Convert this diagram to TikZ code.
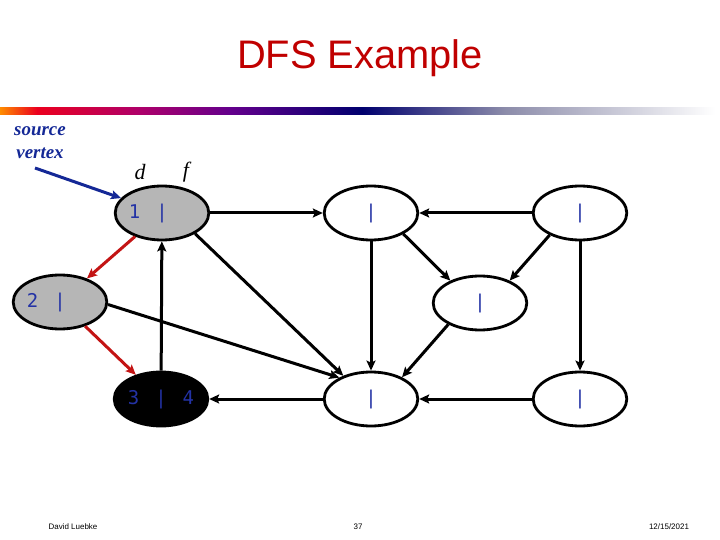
\documentclass[tikz,border=0pt]{standalone}
\usepackage{fontspec}
\setmainfont{Liberation Serif}
\setsansfont{Liberation Sans}
\setmonofont{DejaVu Sans Mono}
\usepackage{tikz}
\usetikzlibrary{arrows.meta, shapes.geometric}

\definecolor{titlered}{RGB}{192,0,0}
\definecolor{visitgray}{RGB}{182,182,182}
\definecolor{labelblue}{RGB}{35,50,165}
\definecolor{notenavy}{RGB}{20,40,150}
\definecolor{treered}{RGB}{195,20,20}
\definecolor{barorange}{RGB}{255,140,0}
\definecolor{barred}{RGB}{235,0,30}
\definecolor{barmagenta}{RGB}{175,0,105}
\definecolor{barpurple}{RGB}{100,0,140}
\definecolor{barnavy}{RGB}{0,0,110}
\definecolor{bargray}{RGB}{140,140,170}

\newcommand{\tgap}{\hspace{16bp}}
\newcommand{\dfslabel}[2]{#1\tgap|\tgap#2}
\newcommand{\nolabel}{\dfslabel{\phantom{0}}{\phantom{0}}}

\tikzset{
  vertex/.style={draw, ellipse, line width=2.8bp, fill=white,
    minimum width=86bp, minimum height=54bp, inner sep=0pt,
    text=labelblue, font=\ttfamily\fontsize{19}{19}\selectfont},
  grayvertex/.style={vertex, fill=visitgray},
  blackvertex/.style={vertex, fill=black},
  dfsedge/.style={line width=3bp, -{Stealth[length=10bp,width=9bp,inset=2bp]}},
  treeedge/.style={dfsedge, draw=treered},
}

\begin{document}
\begin{tikzpicture}[x=1bp, y=-1bp]
  \useasboundingbox (0,0) rectangle (720,540);
  % title and colour bar
  \node [text=titlered, font=\sffamily\fontsize{40}{40}\selectfont] (title) at (360,58) {DFS Example};
  \shade [left color=barorange, right color=barred] (0,108) rectangle (37,115);
  \shade [left color=barred, right color=barmagenta] (37,108) rectangle (138,115);
  \shade [left color=barmagenta, right color=barpurple] (138,108) rectangle (230,115);
  \shade [left color=barpurple, right color=barnavy] (230,108) rectangle (362,115);
  \shade [left color=barnavy, right color=bargray] (362,108) rectangle (505,115);
  \shade [left color=bargray, right color=white] (505,108) rectangle (715,115);

  % vertices
  \node [grayvertex] (a) at (162,213) {\dfslabel{1}{\phantom{0}}};
  \node [grayvertex] (b) at (60,302) {\dfslabel{2}{\phantom{0}}};
  \node [blackvertex] (c) at (161,399) {\dfslabel{3}{4}};
  \node [vertex] (d) at (371,213) {\nolabel};
  \node [vertex] (e) at (580,213) {\nolabel};
  \node [vertex] (g) at (480,303) {\nolabel};
  \node [vertex] (h) at (371,399) {\nolabel};
  \node [vertex] (k) at (580,399) {\nolabel};

  % d / f headings and source note
  \node [font=\itshape\fontsize{22}{22}\selectfont] (dlab) at (140,172) {d};
  \node [font=\itshape\fontsize{22}{22}\selectfont] (flab) at (186,172) {f};
  \node [text=notenavy, align=center, font=\bfseries\itshape\fontsize{19}{23}\selectfont] (note) at (40,143) {source\\vertex};
  \coordinate (srctail) at (35,168);
  \draw [dfsedge, draw=notenavy] (srctail) -- (a.160);

  % edges
  \draw [dfsedge] (a) -- (d);
  \draw [dfsedge] (e) -- (d);
  \draw [dfsedge] (d.-33) -- (g.143);
  \draw [dfsedge] (e.-144) -- (g.37);
  \draw [dfsedge] (d) -- (h);
  \draw [dfsedge] (g.-146) -- (h.35);
  \draw [dfsedge] (e) -- (k);
  \draw [dfsedge] (k) -- (h);
  \draw [dfsedge] (h) -- (c);
  \draw [dfsedge] (c) -- (a);
  \draw [dfsedge] (a.-32) -- (h.140);
  \draw [dfsedge] (b.-3) -- (h.146);
  \draw [treeedge] (a) -- (b);   % tree edge
  \draw [treeedge] (b) -- (c);   % tree edge

  % footer
  \node [font=\sffamily\fontsize{8}{8}\selectfont] (author) at (73,527) {David Luebke};
  \node [font=\sffamily\fontsize{8}{8}\selectfont] (page) at (358,527) {37};
  \node [font=\sffamily\fontsize{8}{8}\selectfont] (date) at (669,527) {12/15/2021};
\end{tikzpicture}
\end{document}
